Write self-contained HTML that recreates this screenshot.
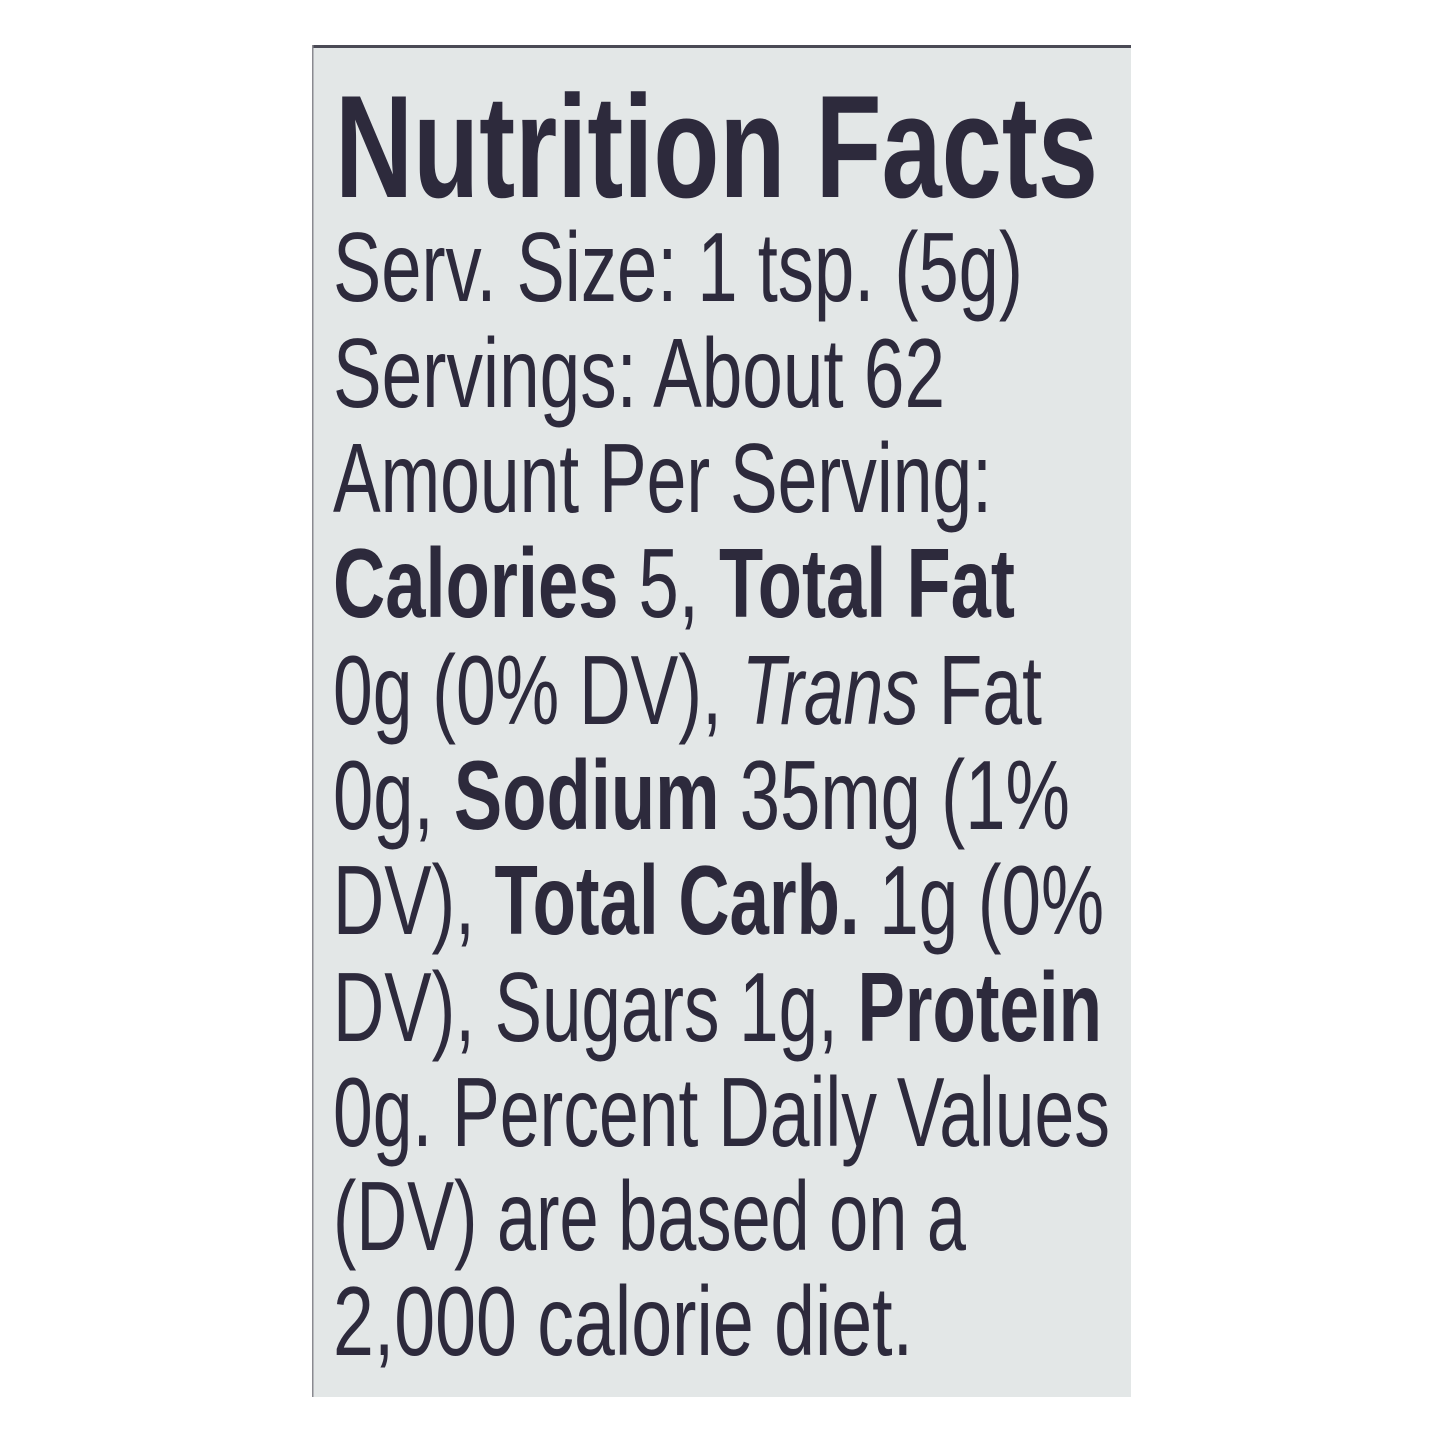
<!DOCTYPE html>
<html><head><meta charset="utf-8"><style>
html,body{margin:0;padding:0;background:#fff;}
svg{display:block;}
text{font-family:"Liberation Sans",sans-serif;fill:#2d2a3c;}
.b{font-weight:bold;}
</style></head><body>
<svg width="1445" height="1445" viewBox="0 0 1445 1445" xmlns="http://www.w3.org/2000/svg">
<rect x="0" y="0" width="1445" height="1445" fill="#fff"/>
<rect x="312" y="45" width="819" height="1352" fill="#e3e7e7"/>
<rect x="312" y="45" width="819" height="3" fill="#4a4a55"/>
<rect x="312" y="45" width="1.5" height="1352" fill="#8a8a90"/>
<text x="335" y="197" font-size="146" class="b" textLength="763" lengthAdjust="spacingAndGlyphs">Nutrition Facts</text>
<g font-size="98">
<text x="333" y="301" textLength="690" lengthAdjust="spacingAndGlyphs">Serv. Size: 1 tsp. (5g)</text>
<text x="333" y="407" textLength="612" lengthAdjust="spacingAndGlyphs">Servings: About 62</text>
<text x="333" y="512" textLength="659" lengthAdjust="spacingAndGlyphs">Amount Per Serving:</text>
<text x="333" y="617" textLength="682" lengthAdjust="spacingAndGlyphs"><tspan class="b">Calories</tspan> 5, <tspan class="b">Total Fat</tspan></text>
<text x="333" y="724" textLength="709" lengthAdjust="spacingAndGlyphs">0g (0% DV), <tspan font-style="italic">Trans</tspan> Fat</text>
<text x="333" y="829" textLength="737" lengthAdjust="spacingAndGlyphs">0g, <tspan class="b">Sodium</tspan> 35mg (1%</text>
<text x="333" y="934" textLength="771" lengthAdjust="spacingAndGlyphs">DV), <tspan class="b">Total Carb.</tspan> 1g (0%</text>
<text x="333" y="1041" textLength="769" lengthAdjust="spacingAndGlyphs">DV), Sugars 1g, <tspan class="b">Protein</tspan></text>
<text x="333" y="1146" textLength="777" lengthAdjust="spacingAndGlyphs">0g. Percent Daily Values</text>
<text x="333" y="1250" textLength="633" lengthAdjust="spacingAndGlyphs">(DV) are based on a</text>
<text x="333" y="1355" textLength="580" lengthAdjust="spacingAndGlyphs">2,000 calorie diet.</text>
</g>
</svg>
</body></html>
